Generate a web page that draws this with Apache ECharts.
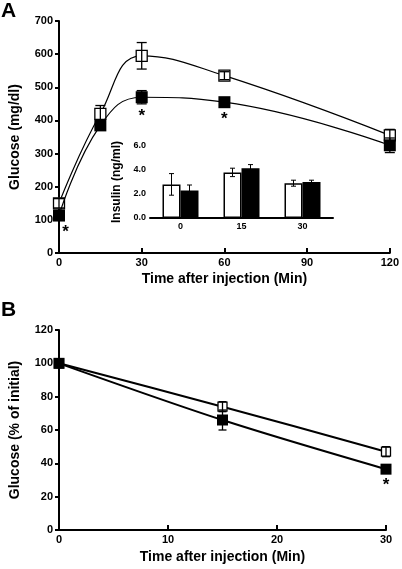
<!DOCTYPE html>
<html><head><meta charset="utf-8">
<script src="https://cdn.jsdelivr.net/npm/echarts@6/dist/echarts.min.js"></script>
<style>html,body{margin:0;padding:0;background:#fff}#c{width:402px;height:569px}</style>
</head><body><div id="c"></div>
<script>
// Panel A: glucose tolerance
const timeA = [0, 15, 30, 60, 120];
const ctrlA = [150, 420, 595, 535, 355];
const ctrlAErr = [14, 25, 40, 12, 18];
const koA = [113, 385, 470, 455, 325];
const koAErr = [10, 12, 20, 8, 22];
// Inset: insulin
const insulinCats = ['0', '15', '30'];
const insulinCtrl = [2.8, 3.8, 2.9];
const insulinCtrlErr = [0.9, 0.35, 0.25];
const insulinKO = [2.3, 4.15, 3.0];
const insulinKOErr = [0.45, 0.3, 0.15];
// Panel B: insulin tolerance
const timeB = [0, 15, 30];
const ctrlB = [100, 74, 47];
const ctrlBErr = [1, 3, 3];
const koB = [100, 66, 36.5];
const koBErr = [1, 6, 2];
// significance markers [x, y]
const starsA = [[2.4, 62], [30, 412], [60, 403]];
const starsB = [[30, 27]];

const FONT = 'Liberation Sans, Arial, sans-serif';
const BAR_W = 18;
const zip = (xs, ys) => xs.map((x, i) => [x, ys[i]]);
const errData = (xs, ys, es) => xs.map((x, i) => [x, ys[i] - es[i], ys[i] + es[i]]);

function errRender(cap, width, offset) {
  return function (params, api) {
    const xv = api.value(0);
    const lo = api.coord([xv, api.value(1)]);
    const hi = api.coord([xv, api.value(2)]);
    const x = lo[0] + (offset || 0);
    const st = { stroke: '#000', lineWidth: width };
    return { type: 'group', children: [
      { type: 'line', shape: { x1: x, y1: lo[1], x2: x, y2: hi[1] }, style: st },
      { type: 'line', shape: { x1: x - cap, y1: lo[1], x2: x + cap, y2: lo[1] }, style: st },
      { type: 'line', shape: { x1: x - cap, y1: hi[1], x2: x + cap, y2: hi[1] }, style: st }
    ]};
  };
}
function starRender(params, api) {
  const p = api.coord([api.value(0), api.value(1)]);
  return { type: 'text', x: p[0], y: p[1],
    style: { text: '*', font: 'bold 17px ' + FONT, fill: '#000', align: 'center', verticalAlign: 'middle' } };
}

const axisLine = { lineStyle: { color: '#000', width: 2 } };
const lbl = (size, extra) => Object.assign({ color: '#000', fontFamily: FONT, fontWeight: 'bold', fontSize: size }, extra || {});
const nameStyle = (size) => ({ color: '#000', fontFamily: FONT, fontWeight: 'bold', fontSize: size });

const chart = echarts.init(document.getElementById('c'), null, { renderer: 'canvas' });
chart.setOption({
  animation: false,
  backgroundColor: '#fff',
  graphic: [
    { type: 'text', left: 1, top: 1, style: { text: 'A', font: 'bold 21px ' + FONT, fill: '#000' } },
    { type: 'text', left: 1, top: 300, style: { text: 'B', font: 'bold 21px ' + FONT, fill: '#000' } }
  ],
  grid: [
    { left: 49, top: 21, width: 344, height: 232 },
    { left: 150, top: 146, width: 183, height: 72 },
    { left: 49, top: 330, width: 337, height: 200 }
  ],
  xAxis: [
    { gridIndex: 0, type: 'value', min: 0, max: 120, interval: 30,
      name: 'Time after injection (Min)', nameLocation: 'middle', nameGap: 19, nameTextStyle: nameStyle(14),
      axisLine: axisLine, axisTick: { inside: true, length: 5, lineStyle: { color: '#000', width: 2 } },
      axisLabel: lbl(11, { margin: 4 }), splitLine: { show: false } },
    { gridIndex: 1, type: 'category', data: insulinCats,
      axisLine: axisLine, axisTick: { show: false },
      axisLabel: lbl(9, { margin: 4 }), splitLine: { show: false } },
    { gridIndex: 2, type: 'value', min: 0, max: 30, interval: 10,
      name: 'Time after injection (Min)', nameLocation: 'middle', nameGap: 20, nameTextStyle: nameStyle(14),
      axisLine: axisLine, axisTick: { inside: true, length: 5, lineStyle: { color: '#000', width: 2 } },
      axisLabel: lbl(11, { margin: 4 }), splitLine: { show: false } }
  ],
  yAxis: [
    { gridIndex: 0, type: 'value', min: 0, max: 700, interval: 100,
      name: 'Glucose (mg/dl)', nameLocation: 'middle', nameGap: 37, nameTextStyle: nameStyle(14),
      axisLine: axisLine, axisTick: { length: 4, lineStyle: { color: '#000', width: 2 } },
      axisLabel: lbl(11, { margin: 6 }), splitLine: { show: false } },
    { gridIndex: 1, type: 'value', min: 0, max: 6, interval: 2,
      name: 'Insulin (ng/ml)', nameLocation: 'middle', nameGap: 27, nameTextStyle: nameStyle(12),
      axisLine: axisLine, axisTick: { length: 3, lineStyle: { color: '#000', width: 1.5 } },
      axisLabel: lbl(9, { margin: 4, formatter: v => v.toFixed(1) }), splitLine: { show: false } },
    { gridIndex: 2, type: 'value', min: 0, max: 120, interval: 20,
      name: 'Glucose (% of initial)', nameLocation: 'middle', nameGap: 37, nameTextStyle: nameStyle(14),
      axisLine: axisLine, axisTick: { length: 4, lineStyle: { color: '#000', width: 2 } },
      axisLabel: lbl(11, { margin: 6 }), splitLine: { show: false } }
  ],
  series: [
    // Panel A lines with markers
    { type: 'line', xAxisIndex: 0, yAxisIndex: 0, data: zip(timeA, ctrlA), smooth: 0.45,
      lineStyle: { color: '#000', width: 1.2 }, symbol: 'rect', symbolSize: 11,
      itemStyle: { color: '#fff', borderColor: '#000', borderWidth: 1.3 }, z: 3 },
    { type: 'line', xAxisIndex: 0, yAxisIndex: 0, data: zip(timeA, koA), smooth: 0.45,
      lineStyle: { color: '#000', width: 1.2 }, symbol: 'rect', symbolSize: 12,
      itemStyle: { color: '#000', borderColor: '#000', borderWidth: 0 }, z: 4 },
    { type: 'custom', xAxisIndex: 0, yAxisIndex: 0, data: errData(timeA, ctrlA, ctrlAErr),
      renderItem: errRender(5, 1.3), z: 5 },
    { type: 'custom', xAxisIndex: 0, yAxisIndex: 0, data: errData(timeA, koA, koAErr),
      renderItem: errRender(5, 1.3), z: 5 },
    // Inset bars
    { type: 'bar', xAxisIndex: 1, yAxisIndex: 1, data: insulinCtrl, barWidth: BAR_W, barGap: '0%',
      itemStyle: { color: '#fff', borderColor: '#000', borderWidth: 1.5 }, z: 6 },
    { type: 'bar', xAxisIndex: 1, yAxisIndex: 1, data: insulinKO, barWidth: BAR_W, barGap: '0%',
      itemStyle: { color: '#000', borderColor: '#000', borderWidth: 1.5 }, z: 6 },
    { type: 'custom', xAxisIndex: 1, yAxisIndex: 1,
      data: insulinCats.map((c, i) => [i, insulinCtrl[i] - insulinCtrlErr[i], insulinCtrl[i] + insulinCtrlErr[i]]),
      renderItem: errRender(2.5, 1, -BAR_W / 2), z: 7 },
    { type: 'custom', xAxisIndex: 1, yAxisIndex: 1,
      data: insulinCats.map((c, i) => [i, insulinKO[i] - insulinKOErr[i], insulinKO[i] + insulinKOErr[i]]),
      renderItem: errRender(2.5, 1, BAR_W / 2), z: 7 },
    // Panel B
    { type: 'line', xAxisIndex: 2, yAxisIndex: 2, data: zip(timeB, ctrlB), smooth: 0.3,
      lineStyle: { color: '#000', width: 2 }, symbol: 'rect', symbolSize: 9,
      itemStyle: { color: '#fff', borderColor: '#000', borderWidth: 1.3 }, z: 3 },
    { type: 'line', xAxisIndex: 2, yAxisIndex: 2, data: zip(timeB, koB), smooth: 0.3,
      lineStyle: { color: '#000', width: 2 }, symbol: 'rect', symbolSize: 11,
      itemStyle: { color: '#000', borderWidth: 0 }, z: 4 },
    { type: 'custom', xAxisIndex: 2, yAxisIndex: 2, data: errData(timeB, ctrlB, ctrlBErr),
      renderItem: errRender(4, 1.3), z: 5 },
    { type: 'custom', xAxisIndex: 2, yAxisIndex: 2, data: errData(timeB, koB, koBErr),
      renderItem: errRender(4, 1.3), z: 5 },
    // asterisks
    { type: 'custom', xAxisIndex: 0, yAxisIndex: 0, data: starsA, renderItem: starRender, z: 8 },
    { type: 'custom', xAxisIndex: 2, yAxisIndex: 2, data: starsB, renderItem: starRender, z: 8 }
  ]
});
</script>
</body></html>
